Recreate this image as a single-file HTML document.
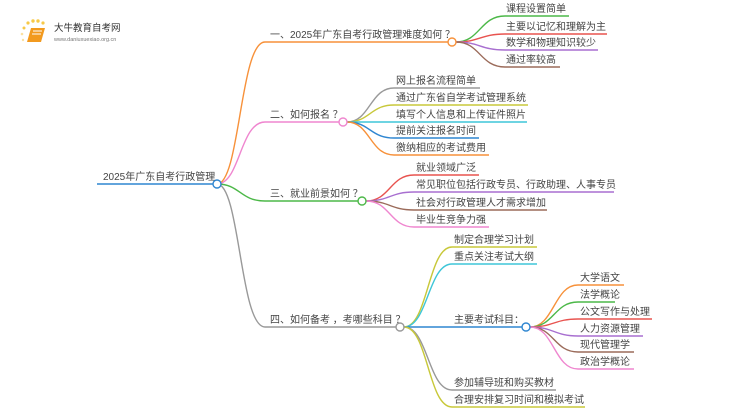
<!DOCTYPE html>
<html><head><meta charset="utf-8"><style>
html,body{margin:0;padding:0;background:#fff;width:750px;height:410px;overflow:hidden}
svg text{font-family:"Liberation Sans","Noto Sans CJK SC",sans-serif;fill:#444;font-size:10px}
</style></head><body>
<svg width="750" height="410" viewBox="0 0 750 410" xmlns="http://www.w3.org/2000/svg" fill="none" stroke-width="1.4">
<g>
<circle cx="24" cy="28" r="1.5" fill="#f7c948" stroke="none"/>
<circle cx="28" cy="23" r="1.6" fill="#f7c948" stroke="none"/>
<circle cx="33" cy="21" r="1.7" fill="#f7c948" stroke="none"/>
<circle cx="38" cy="21" r="1.7" fill="#f7c948" stroke="none"/>
<circle cx="43" cy="23" r="1.6" fill="#f7c948" stroke="none"/>
<circle cx="22" cy="34" r="1.3" fill="#fbe0a0" stroke="none"/>
<circle cx="23" cy="40" r="1.2" fill="#fbe0a0" stroke="none"/>
<path d="M31 28 L45 28 L41 42 L27 42 Z" fill="#f29a1f" stroke="none"/>
<path d="M33 31 L42 31 M32 34 L41 34" stroke="#fff" stroke-width="1"/>
<text x="54" y="31" style="font-size:9.5px;fill:#333">大牛教育自考网</text>
<text x="54" y="41" style="font-size:5.5px;fill:#777">www.daniuxuexiao.org.cn</text>
</g>
<text x="103" y="180">2025年广东自考行政管理</text>
<path d="M97 184 H213" stroke="#2f86d1"/>
<path d="M217 184 C240 184,240 42,265 42 H448" stroke="#f7913a"/>
<path d="M217 184 C240 184,240 122,265 122 H339" stroke="#ef86cf"/>
<path d="M217 184 C240 184,240 201,265 201 H358" stroke="#4cb848"/>
<path d="M217 184 C240 184,240 327,265 327 H396" stroke="#999"/>
<text x="270" y="38">一、2025年广东自考行政管理难度如何 ？</text>
<text x="270" y="118">二、如何报名 ？</text>
<text x="270" y="197">三、就业前景如何 ？</text>
<text x="270" y="323">四、如何备考 ，考哪些科目 ？</text>
<path d="M456 42 C480 42,480 16,505 16 H569" stroke="#4cb848"/>
<path d="M456 42 C480 42,480 34,505 34 H607" stroke="#e8534f"/>
<path d="M456 42 C480 42,480 50,505 50 H598" stroke="#a86fd0"/>
<path d="M456 42 C480 42,480 67,505 67 H560" stroke="#9b6b5a"/>
<text x="506" y="12">课程设置简单</text>
<text x="506" y="30">主要以记忆和理解为主</text>
<text x="506" y="46">数学和物理知识较少</text>
<text x="506" y="63">通过率较高</text>
<path d="M347 122 C370 122,370 88,394 88 H480" stroke="#999"/>
<path d="M347 122 C370 122,370 105,394 105 H528" stroke="#c8c83a"/>
<path d="M347 122 H527" stroke="#3fc6d8"/>
<path d="M347 122 C370 122,370 138,394 138 H479" stroke="#2f86d1"/>
<path d="M347 122 C370 122,370 155,394 155 H489" stroke="#f7913a"/>
<text x="396" y="84">网上报名流程简单</text>
<text x="396" y="101">通过广东省自学考试管理系统</text>
<text x="396" y="118">填写个人信息和上传证件照片</text>
<text x="396" y="134">提前关注报名时间</text>
<text x="396" y="151">徼纳相应的考试费用</text>
<path d="M366 201 C390 201,390 175,414 175 H479" stroke="#e8534f"/>
<path d="M366 201 C390 201,390 192,414 192 H614" stroke="#a86fd0"/>
<path d="M366 201 C390 201,390 210,414 210 H547" stroke="#9b6b5a"/>
<path d="M366 201 C390 201,390 227,414 227 H489" stroke="#ef86cf"/>
<text x="416" y="171">就业领域广泛</text>
<text x="416" y="188">常见职位包括行政专员、行政助理、人事专员</text>
<text x="416" y="206">社会对行政管理人才需求增加</text>
<text x="416" y="223">毕业生竞争力强</text>
<path d="M404 327 C428 327,428 247,452 247 H537" stroke="#c8c83a"/>
<path d="M404 327 C428 327,428 264,452 264 H537" stroke="#3fc6d8"/>
<path d="M404 327 H522" stroke="#2f86d1"/>
<path d="M404 327 C428 327,428 390,452 390 H556" stroke="#999"/>
<path d="M404 327 C428 327,428 407,452 407 H585" stroke="#c8c83a"/>
<text x="454" y="243">制定合理学习计划</text>
<text x="454" y="260">重点关注考试大纲</text>
<text x="454" y="323">主要考试科目：</text>
<text x="454" y="386">参加辅导班和购买教材</text>
<text x="454" y="403">合理安排复习时间和模拟考试</text>
<path d="M530 327 C554 327,554 285,578 285 H624" stroke="#f7913a"/>
<path d="M530 327 C554 327,554 302,578 302 H615" stroke="#4cb848"/>
<path d="M530 327 C554 327,554 319,578 319 H652" stroke="#e8534f"/>
<path d="M530 327 C554 327,554 336,578 336 H643" stroke="#a86fd0"/>
<path d="M530 327 C554 327,554 352,578 352 H634" stroke="#9b6b5a"/>
<path d="M530 327 C554 327,554 369,578 369 H634" stroke="#ef86cf"/>
<text x="580" y="281">大学语文</text>
<text x="580" y="298">法学概论</text>
<text x="580" y="315">公文写作与处理</text>
<text x="580" y="332">人力资源管理</text>
<text x="580" y="348">现代管理学</text>
<text x="580" y="365">政治学概论</text>
<circle cx="217" cy="184" r="4" fill="#fff" stroke="#2f86d1"/>
<circle cx="452" cy="42" r="4" fill="#fff" stroke="#f7913a"/>
<circle cx="343" cy="122" r="4" fill="#fff" stroke="#ef86cf"/>
<circle cx="362" cy="201" r="4" fill="#fff" stroke="#4cb848"/>
<circle cx="400" cy="327" r="4" fill="#fff" stroke="#999"/>
<circle cx="526" cy="327" r="4" fill="#fff" stroke="#2f86d1"/>
</svg>
</body></html>
